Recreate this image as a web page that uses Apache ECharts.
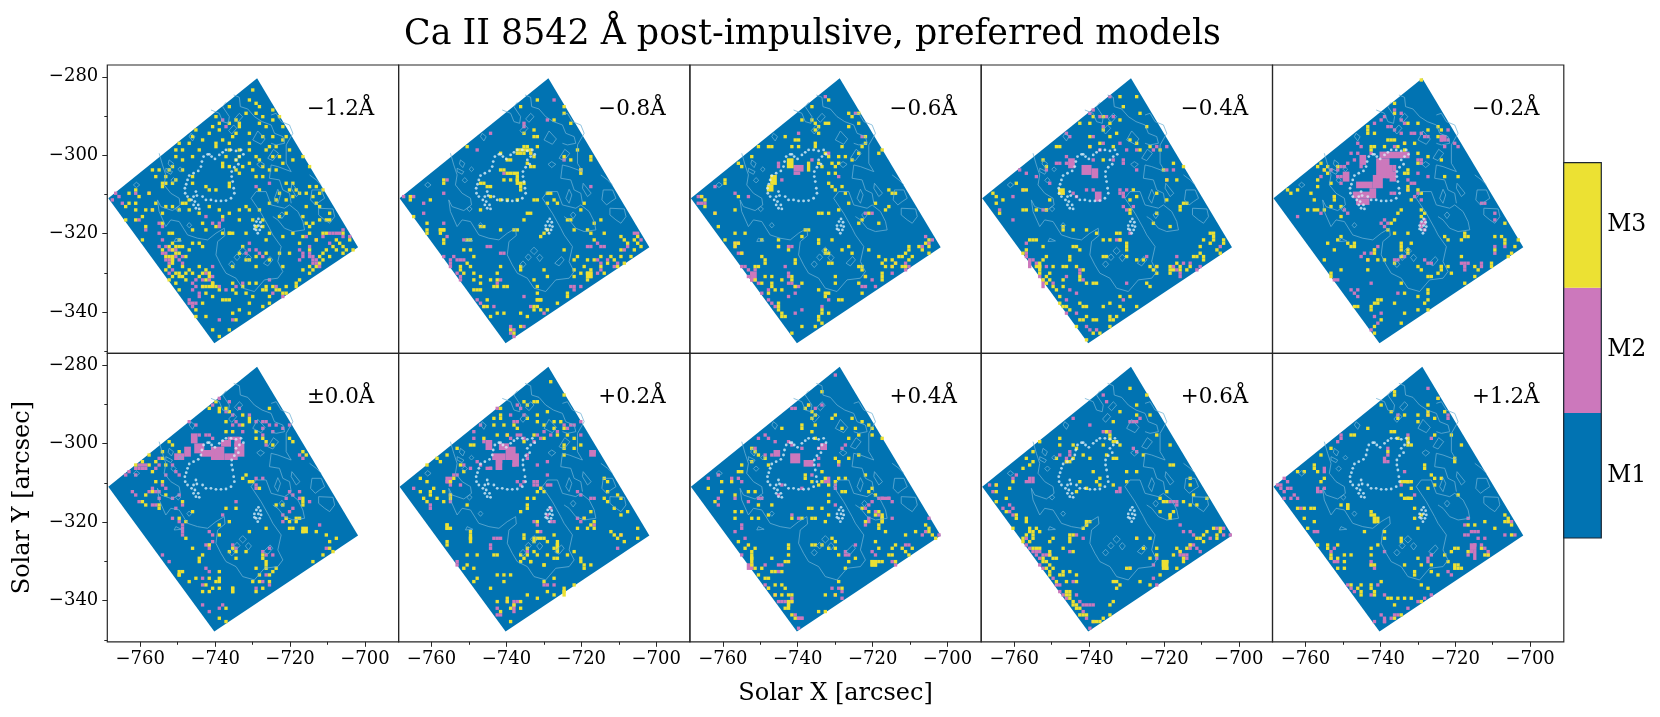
<!DOCTYPE html>
<html>
<head>
<meta charset="utf-8">
<title>Ca II 8542 preferred models</title>
<script src="https://cdn.jsdelivr.net/npm/echarts@6/dist/echarts.min.js"></script>
<style>
  html, body { margin: 0; padding: 0; background: #fff; }
  #main { width: 1660px; height: 717px; }
</style>
</head>
<body>
<div id="main"></div>
<script>
const panelLabels = ['\u22121.2\u00c5', '\u22120.8\u00c5', '\u22120.6\u00c5', '\u22120.4\u00c5', '\u22120.2\u00c5',
  '\u00b10.0\u00c5', '+0.2\u00c5', '+0.4\u00c5', '+0.6\u00c5', '+1.2\u00c5']
const modelNames = ['M1', 'M2', 'M3']
const xMajorTicks = [-760, -740, -720, -700]
const xMinorTicks = [-750, -730, -710]
const yMajorTicks = [-280, -300, -320, -340]
const yMinorTicks = [-290, -310, -330, -350]

// field of view corners, col,row
const footprintCorners = [[44.8, 4], [75, 54.7], [32, 83.5], [0.3, 40]]

const m3Minus12 = [43,7,42,10,47,5,47,8,44,14,36,12,33,12,32,15,30,15,38,16,39,17,36,17,33,17,41,14,45,17,49,16,51,15,52,18,47,18,42,20,39,18,38,20,46,21,49,21,53,21,55,18,57,22,52,22,48,24,49,27,51,27,54,25,58,27,60,30,25,21,23,20,24,23,21,23,22,25,28,22,32,23,32,24,34,22,36,23,42,23,42,25,39,25,39,27,47,25,45,28,46,30,42,29,40,30,36,30,34,30,34,29,25,27,22,28,19,30,18,31,15,31,14,33,17,33,17,35,19,35,20,34,22,31,25,33,25,35,29,36,30,37,32,37,36,35,36,36,45,37,46,33,44,33,48,31,50,31,53,35,55,35,56,37,54,37,60,36,62,36,63,38,64,37,63,42,59,42,67,41,58,45,53,44,51,45,6,38,8,37,12,38,14,41,8,41,6,41,11,43,10,45,8,46,5,46,4,48,10,52,16,47,17,42,19,42,21,43,18,50,19,50,25,49,28,47,29,49,32,48,34,50,36,50,41,50,39,43,42,43,41,42,44,48,47,52,48,50,52,51,55,50,58,51,62,52,60,50,65,50,68,52,70,50,72,52,73,55,70,56,69,59,65,55,63,57,60,55,57,53,54,56,51,56,52,60,48,58,47,56,44,57,41,58,40,54,44,60,42,58,39,56,37,60,27,53,28,54,21,54,20,56,19,58,18,60,17,61,21,62,22,63,20,65,21,67,23,64,27,60,29,61,30,63,31,65,32,66,29,68,31,69,28,71,25,62,37,65,38,68,41,68,43,69,47,66,49,66,51,67,53,66,56,65,60,62,62,60,64,56,44,65,48,71,46,72,42,71,39,73,36,70,34,70,37,74,42,74,45,75,41,77,38,76,36,79,26,73,26,75,27,77,29,75,31,79,33,81,44,78,38,80,
  16,55,17,57,18,54,19,55,20,54,21,56,19,53,18,57,22,54,23,57,21,52,24,55,25,53,19,63,20,62,21,63,22,60,23,62,24,61,18,64,27,63,28,62,29,64,30,62,28,66,29,66,30,66,33,67,35,70,37,67,40,66,42,65,46,67,47,67,48,69,50,67,52,68,53,68,54,69,55,69,56,66,57,64,58,61,60,60,61,61,63,59,64,58,66,57,67,54,68,55,69,53,70,54,71,55,64,50,60,48,61,47,59,47,63,46,65,46,66,44,66,46,62,41,61,39,59,38,57,38,55,39,53,40,51,38,50,40,48,41,45,43,46,46,46,48,43,46,39,46,36,44,34,45,33,43,30,42,27,44,24,43,22,41,23,41,24,40,16,44,13,43,11,48,8,43,5,42,9,39,16,36,16,35,13,31,20,27,20,25,27,25,30,20,33,19,26,19,28,15,31,18,37,21,36,25,35,27,38,28,38,31,39,32,43,31,44,27,50,24,52,29,55,28,46,15,49,13,45,12,44,11]
const m2Minus12 = [2,38,3,39,4,41,1,40,8,38,12,38,34,16,35,18,27,17,16,52,15,54,16,56,17,56,18,58,19,57,20,57,19,61,18,62,22,57,15,50,11,49,31,60,30,62,26,64,27,68,25,67,24,70,25,71,27,69,28,66,31,63,33,66,35,67,38,66,40,65,33,47,34,46,15,47,16,48,29,45,42,53,44,55,45,56,46,57,57,55,58,56,60,54,60,56,61,58,62,59,59,51,66,50,68,50,70,49,72,51,69,58,66,53,48,64,50,66,52,69,49,68,55,68,33,76,37,76,50,72,31,65,48,35,44,36,13,43,9,46,
  17,54,18,55,19,55,20,55,17,58,18,59,21,58,22,59,25,65,26,66,28,64,29,62,30,64,24,71,25,72,26,71,60,57,61,57,62,58,61,59,63,60,58,57,57,58,62,52,64,51,67,50,69,50,70,51,42,55,41,56,31,47,33,48]
const m3Minus08 = [36,12,41,10,49,12,49,14,46,16,51,17,37,20,40,19,41,21,40,21,38,24,37,24,41,24,39,26,36,26,35,26,37,26,40,27,32,28,30,26,33,28,38,29,40,30,39,30,30,31,32,32,33,32,31,31,35,33,35,34,36,35,37,35,25,35,26,36,27,36,24,35,31,34,33,34,36,37,36,36,32,40,30,40,35,40,27,39,24,43,40,40,41,40,38,44,39,44,44,38,45,38,44,41,46,40,47,41,54,32,54,31,57,27,57,28,50,46,51,46,51,28,49,27,53,25,18,24,20,24,13,35,13,34,9,40,16,24,3,39,3,40,4,45,8,47,8,49,8,50,12,49,13,49,13,53,12,50,13,52,20,52,21,52,21,55,19,55,22,57,20,59,18,60,18,61,19,62,21,60,22,62,17,64,22,64,24,63,24,65,22,67,23,67,24,67,27,64,28,66,29,66,30,60,29,62,29,64,31,66,32,66,36,60,36,61,41,66,43,61,44,63,40,64,41,68,41,70,42,70,50,68,50,69,47,71,40,72,41,72,26,70,25,72,26,72,24,73,29,74,27,75,31,74,36,74,38,75,40,73,42,73,44,73,47,74,33,79,36,78,34,80,40,79,52,63,52,61,54,62,55,60,56,62,57,62,57,63,56,64,57,61,56,58,60,57,58,58,60,60,61,62,63,57,62,59,64,58,65,60,66,51,67,52,68,53,70,52,71,51,71,53,72,54,72,56,66,55,66,57,70,55,69,57,67,59,49,55,52,58,53,57,57,50,58,52,56,49,58,47,60,46,61,50,55,41,54,43,52,49,43,50,42,51,44,49,35,49,34,49,37,46,25,48,24,48,30,49]
const m2Minus08 = [4,39,0,40,1,39,7,41,7,44,13,47,14,51,11,55,13,57,15,58,15,59,16,57,17,58,18,58,19,58,15,60,17,62,18,63,18,64,17,65,19,52,27,54,26,54,30,56,31,56,30,64,29,65,23,70,24,71,25,72,24,74,28,72,37,69,39,72,43,74,33,78,33,80,34,79,34,81,37,78,56,54,57,54,59,53,60,54,61,54,59,58,60,59,60,61,59,62,62,58,64,60,65,59,51,66,52,66,52,67,54,66,60,65,61,65,63,63,57,67,37,18,37,17,44,16,46,10,27,20,23,25,14,34,13,38,70,50,71,50,72,52,73,51,67,55,68,54,74,55,31,32,39,26,54,31,57,36,49,28]
const m3Minus06 = [47,6,49,9,41,10,36,12,47,14,50,14,48,15,50,17,47,18,36,16,37,17,38,18,38,20,37,19,33,16,40,17,41,17,52,21,52,23,51,24,57,25,56,26,31,22,32,22,32,24,28,21,24,24,23,24,30,24,37,23,37,24,40,26,41,27,45,24,44,27,46,27,48,28,50,26,42,29,43,30,44,29,43,32,41,32,41,35,42,36,43,37,45,36,46,38,47,41,44,43,38,44,39,44,41,44,38,29,39,30,15,30,18,27,20,24,14,29,10,35,10,34,14,39,13,43,4,40,4,42,3,39,3,44,7,44,8,48,10,52,13,50,13,53,13,54,14,53,16,50,21,52,26,54,26,52,21,57,22,58,15,56,19,60,20,60,22,59,22,63,19,64,19,66,24,63,24,65,24,66,23,68,21,65,27,64,27,67,25,67,30,64,30,63,31,66,33,65,31,58,31,59,29,55,33,51,38,52,38,53,42,52,40,55,40,56,41,56,42,59,47,54,48,56,41,68,40,68,40,69,38,67,39,73,39,74,38,75,38,76,41,74,44,70,45,70,43,65,43,63,41,59,45,55,50,60,51,61,57,62,57,63,57,64,57,59,58,58,56,57,58,60,60,58,60,60,62,57,63,57,61,59,63,60,65,58,64,60,66,57,69,55,68,54,70,53,71,52,71,54,71,56,72,56,65,55,65,54,64,56,53,55,51,60,52,63,50,65,54,68,51,68,56,67,57,67,26,71,26,72,26,73,27,74,27,75,28,75,29,80,30,80,39,77,37,78,40,79,33,78,36,80,50,47,51,46,53,44,55,41,56,47,58,43,59,42,60,38,59,37,61,38]
const m2Minus06 = [2,39,3,39,3,41,4,41,2,41,7,36,13,38,17,39,7,44,13,53,14,53,13,54,14,56,15,56,15,60,14,59,16,60,17,61,18,62,19,61,18,64,17,63,18,65,19,66,20,65,29,62,29,63,29,65,21,68,23,67,31,66,32,66,26,54,29,54,30,54,28,60,30,65,22,70,23,70,24,71,25,72,24,73,29,69,31,68,33,73,31,74,41,70,39,72,52,63,51,66,52,66,54,64,60,62,60,60,61,59,64,59,64,61,65,60,55,66,59,66,70,51,71,53,69,54,72,52,52,44,54,44,44,33,41,26,32,20,26,30,27,34,26,29,36,28,49,14,51,21,40,9]
const m3Blocks06 = [24,33,2,3,23,36,2,2,29,28,2,3,35,29,1,3,34,49,2,1]
const m2Blocks06 = [31,30,3,2,31,32,2,1,18,62,2,3]
const m3Minus04 = [45,4,47,8,41,9,42,12,46,9,33,15,32,17,36,15,38,17,36,19,38,21,40,20,41,16,47,14,49,18,46,23,44,22,47,25,50,24,53,25,57,29,54,31,55,34,58,34,60,30,61,41,59,42,55,40,52,38,46,39,44,40,45,37,44,43,44,44,36,28,35,23,32,24,39,24,29,17,32,21,23,24,22,24,18,28,19,30,12,37,10,35,13,37,3,38,0,39,4,39,4,41,6,40,5,44,12,43,13,43,16,43,19,43,20,40,14,52,15,52,16,52,13,55,12,56,18,54,19,57,24,48,24,49,27,49,31,49,34,50,40,50,41,50,36,52,38,52,41,52,43,53,43,54,27,54,28,54,29,55,26,57,26,58,25,60,24,60,28,60,30,61,29,63,29,64,31,65,33,65,34,65,21,60,20,62,20,64,19,65,21,66,22,67,24,64,24,66,21,69,23,69,25,72,26,73,29,71,30,72,31,72,36,72,38,71,41,69,44,69,46,72,41,72,38,75,39,76,40,75,42,73,42,76,34,76,33,76,31,75,30,76,29,76,28,78,29,80,31,82,31,84,33,80,35,80,38,78,38,76,16,60,17,60,17,62,18,64,19,63,20,68,18,58,23,71,24,72,36,57,37,57,43,55,43,57,46,58,48,58,50,60,51,61,52,60,49,65,50,66,52,62,56,60,56,62,58,59,59,60,59,61,61,61,62,60,63,57,64,57,65,56,66,57,66,58,65,54,68,53,69,50,69,51,69,52,72,52,72,53,71,56,70,55,66,52,68,50,51,47,52,44,56,48,59,43,60,41]
const m2Minus04 = [38,9,32,14,33,13,35,15,36,18,37,15,39,15,26,21,25,20,33,21,32,24,36,23,41,23,43,25,46,25,51,25,52,24,55,24,25,27,25,29,23,29,22,29,19,31,20,35,16,33,12,37,9,39,13,32,11,31,33,28,39,28,35,25,42,28,42,29,46,31,55,31,55,34,57,31,33,37,31,37,27,38,28,39,24,38,43,37,41,37,41,38,42,38,42,39,45,42,43,43,42,42,9,46,5,43,18,43,19,43,13,53,13,56,13,57,15,58,16,59,14,59,17,63,17,65,19,60,21,65,25,63,26,67,22,71,23,72,24,73,25,74,28,68,29,62,30,64,29,61,44,50,41,52,40,52,43,65,49,57,42,70,52,60,57,60,58,61,59,62,59,63,58,57,60,59,62,59,63,62,64,61,65,60,63,64,71,54,73,50,25,70,28,74,31,78,32,79,34,79]
const m2Blocks04 = [30,30,3,3,33,31,2,3,26,28,2,3,34,38,2,3,14,58,1,3,18,64,1,3]
const m3Blocks04 = [23,37,2,2,17,59,1,3,56,61,2,1]
const m3Minus02 = [44,4,47,8,48,9,36,11,33,12,31,14,36,14,43,17,40,17,49,18,50,19,46,19,49,21,55,20,28,18,28,19,28,20,30,20,26,18,25,19,22,21,35,22,36,22,39,23,39,25,43,26,42,23,37,24,33,24,29,24,29,25,43,29,46,27,40,31,39,32,40,32,34,22,30,24,50,28,51,33,55,33,16,30,15,31,16,32,14,29,13,30,19,30,17,35,13,34,13,36,11,38,12,40,7,37,4,37,5,38,10,43,12,43,13,43,18,39,18,40,20,42,20,45,15,43,17,42,35,47,36,46,34,49,36,50,40,50,41,53,44,43,44,45,38,43,37,44,45,44,44,38,41,40,40,37,40,36,43,37,51,51,52,52,57,50,57,51,56,52,58,51,66,51,69,47,68,51,69,52,69,53,71,56,72,54,70,57,73,52,66,55,65,59,60,60,56,57,50,60,49,62,44,61,43,60,38,53,38,54,38,55,40,55,40,56,38,57,36,59,33,58,31,58,28,58,30,56,28,61,30,55,24,53,24,54,22,53,23,54,20,51,19,52,18,55,16,53,15,58,13,59,13,60,17,62,17,63,18,65,20,61,20,68,22,71,24,72,25,72,31,70,32,70,31,71,30,71,39,68,43,69,46,67,46,68,46,70,45,71,50,60,50,61,52,60,53,62,61,61,65,60,60,63,57,65,46,63,29,72,29,73,30,78,30,80,32,76,39,74,36,71,38,77,43,73,46,73,55,72,47,63,38,65]
const m2Minus02 = [50,11,38,14,33,15,36,13,38,16,39,17,30,15,30,17,34,18,35,18,36,19,41,20,42,20,44,20,45,21,46,21,50,22,51,21,52,22,55,24,54,23,51,24,39,23,36,24,25,23,26,24,29,26,25,26,23,26,27,28,24,28,26,30,22,29,21,30,20,30,19,31,20,33,19,33,20,35,17,31,15,31,14,33,43,28,44,29,44,28,43,32,46,33,40,34,42,35,41,35,40,37,35,38,36,38,43,38,42,39,44,40,18,39,21,43,22,44,14,44,7,45,33,46,32,47,33,48,34,47,31,54,30,55,29,56,27,56,26,57,28,58,38,57,39,57,36,58,37,58,45,58,46,59,47,59,56,59,57,59,57,60,58,59,57,61,69,54,66,54,66,56,62,60,62,59,45,49,45,46,44,48,45,47,44,47,14,60,18,64,19,64,23,67,24,68,25,67,25,69,29,65,37,68,30,75,32,74,29,79,31,77,62,41,63,41,66,44,66,46,50,12,52,19,38,20,32,16]
const m2Blocks02 = [32,26,9,2,31,28,4,6,30,33,3,4,34,30,2,4,35,32,2,3,25,35,5,2,24,38,6,2,25,40,4,2,29,37,2,3,21,32,2,3,26,27,2,3,50,21,2,2,36,30,1,2]
const m3Zero = [32,13,32,14,30,16,33,16,33,17,35,16,36,17,35,20,35,23,37,23,40,18,42,20,42,19,40,21,44,23,44,25,46,25,47,26,50,13,48,16,53,17,55,20,54,25,55,26,58,29,59,30,49,27,18,26,19,27,16,29,16,31,17,33,14,32,21,29,12,33,13,35,12,30,10,32,8,33,4,35,14,38,16,38,17,42,13,41,11,42,10,44,11,45,15,45,15,46,22,44,25,47,21,49,23,50,33,51,33,54,36,50,35,46,38,46,40,37,41,36,42,38,43,38,45,40,50,45,52,45,53,49,54,50,54,52,55,52,56,50,57,49,58,43,58,45,58,44,58,53,66,56,66,58,64,60,67,59,72,57,68,55,65,54,56,49,47,52,42,53,37,58,36,59,46,60,46,61,47,64,44,64,45,66,49,65,50,64,48,66,48,68,45,68,43,68,46,70,44,71,37,71,37,70,30,67,29,69,31,70,30,71,26,67,24,68,28,71,22,65,21,66,19,66,25,58,28,60,27,62,27,61,23,55,30,57,33,65,32,68,33,70,35,76,33,79,35,80,38,61,41,59,38,59,61,62,63,63,60,66,57,67,62,53]
const m2Zero = [36,10,33,13,31,15,36,14,35,17,37,18,39,16,38,20,42,18,44,20,46,20,47,20,46,22,48,21,50,21,49,23,46,24,52,22,54,21,55,20,24,20,26,21,27,24,29,24,30,24,31,25,37,21,39,21,40,23,47,27,57,30,58,31,8,34,9,34,10,34,11,34,8,36,6,35,5,36,15,31,15,33,14,34,17,36,19,33,20,35,21,36,7,41,8,42,9,44,12,41,13,40,14,41,15,41,16,39,17,40,15,43,19,43,21,42,22,45,20,46,13,45,14,45,19,49,21,50,22,51,22,52,22,53,22,54,30,53,31,54,31,56,30,57,29,57,34,48,38,44,44,39,44,40,44,37,46,37,53,43,54,41,55,42,57,41,52,48,53,49,52,50,54,47,55,46,57,43,60,44,63,51,65,58,37,57,38,58,46,59,47,60,48,58,49,60,47,66,46,68,44,70,48,69,30,65,28,67,28,69,29,64,30,58,18,70,20,71,28,75,33,76,34,75,30,77,16,60,18,62,14,60]
const m2BlocksZero = [31,28,4,4,26,27,3,3,28,29,4,2,35,30,4,2,38,27,3,4,38,26,2,2,36,25,4,1,20,30,3,2,25,24,2,3,9,33,3,1,23,28,2,3,34,26,3,2]
const m3Blocks00 = [58,52,2,2,21,65,1,2,33,67,1,2,37,70,1,2,47,62,1,2]
const m3Plus02 = [45,8,49,12,37,14,40,14,41,14,38,15,30,16,30,18,27,16,28,19,30,19,28,21,31,21,34,21,35,22,38,19,41,18,44,17,41,20,43,21,46,22,46,20,48,20,49,22,47,24,50,24,52,25,49,27,49,28,49,30,54,27,52,28,43,25,40,24,37,26,29,24,32,24,25,25,22,27,21,27,17,28,14,30,11,31,12,32,8,33,18,33,19,35,16,37,15,38,6,37,8,38,6,41,9,41,10,40,9,42,8,44,7,43,11,43,13,44,13,41,15,42,15,43,20,45,38,45,38,43,40,43,41,41,42,40,43,41,36,47,38,46,41,50,41,53,37,54,37,55,40,55,41,55,42,55,43,55,40,56,44,56,46,54,38,58,38,60,41,60,44,60,46,61,47,61,46,58,47,57,47,59,50,60,52,59,54,61,54,62,55,63,57,63,55,64,43,63,36,60,37,61,36,62,40,59,39,62,43,68,44,71,46,67,46,72,49,71,49,72,49,73,52,69,41,73,38,72,43,63,39,62,29,60,28,60,23,60,20,60,20,63,19,64,22,64,23,67,22,68,19,66,14,56,14,52,14,51,15,52,21,53,21,55,21,56,14,57,29,66,31,66,31,68,33,66,27,70,24,73,33,76,33,80,30,77,29,74,32,73,32,74,34,75,36,76,36,74,57,51,58,52,56,52,53,52,58,50,55,49,57,47,61,43,62,44,65,42,66,43,64,46,66,48,68,47,71,52,71,55,66,54,65,55,67,56,63,53,64,54,62,38,61,37,62,41]
const m2Plus02 = [29,16,32,13,35,15,36,16,37,18,33,18,34,20,35,20,25,18,24,21,22,23,22,25,25,26,32,24,33,25,35,24,36,24,37,25,40,26,41,24,42,25,43,23,45,24,47,23,49,21,50,22,51,21,52,21,54,20,54,24,58,29,44,32,41,33,38,31,38,30,34,33,30,32,27,34,24,33,23,32,21,34,19,33,17,36,16,36,15,38,15,39,14,38,18,39,35,38,37,38,36,39,40,38,41,38,40,39,41,39,44,36,45,39,44,39,42,40,15,42,15,44,9,46,9,45,4,40,53,41,54,42,57,43,45,50,46,50,44,48,45,46,40,50,41,51,28,55,29,55,30,55,27,57,27,58,14,60,17,62,17,63,18,65,15,63,20,70,29,76,29,78,32,74,30,78,34,74,35,74,43,76,44,76,43,69,44,69,46,69,66,54,65,58,58,43,53,49,54,50,55,49,58,51,38,59,42,53]
const m2BlocksPlus02 = [26,26,2,3,28,30,4,2,32,28,3,4,34,30,2,4,29,32,2,3,26,34,2,1,30,27,3,2,57,29,2,2,14,37,2,2,34,75,1,3]
const m3Blocks02 = [47,56,1,3,49,70,1,3,14,51,1,2,21,54,1,2]
const m3Plus04 = [47,8,39,11,49,9,35,15,36,17,37,18,34,16,36,19,43,18,48,19,49,22,51,20,53,21,54,22,54,24,57,25,58,25,50,24,47,25,45,22,42,19,37,21,37,25,36,23,33,21,33,22,25,19,27,22,18,28,19,29,20,30,22,31,23,33,18,32,15,33,14,35,12,38,15,35,9,38,5,40,7,44,9,41,13,42,17,41,19,41,20,45,13,47,15,47,13,49,18,49,20,49,23,48,24,45,30,49,33,49,36,49,37,49,39,46,40,50,41,48,35,46,36,46,45,41,46,41,41,44,41,42,44,37,46,37,43,38,41,39,40,37,39,38,34,36,34,37,36,38,38,39,39,35,43,31,44,32,47,31,50,30,52,36,53,41,54,40,55,42,51,46,53,47,52,50,56,47,57,49,57,50,56,51,55,48,56,52,58,53,60,58,55,56,56,58,59,60,60,60,63,58,61,57,64,59,65,60,65,61,64,62,67,53,70,51,71,52,71,53,72,54,73,55,74,55,64,54,56,62,57,62,54,62,54,63,55,63,61,62,66,58,49,61,46,64,47,62,43,58,44,60,41,58,39,57,42,55,43,56,37,57,36,57,29,57,29,58,29,60,29,62,28,62,24,61,27,65,25,65,22,67,23,67,25,69,27,69,28,70,23,70,22,71,25,72,27,72,29,72,30,72,30,74,29,75,28,76,30,78,31,79,40,72,38,77,40,77,44,68,45,70,43,72,14,56,16,58,17,57,18,59,18,61,19,58,21,64,18,63,19,64,20,66,24,65]
const m2Plus04 = [43,6,32,13,31,14,35,15,37,16,39,15,30,16,31,16,22,24,23,25,25,26,20,25,19,28,22,30,24,30,29,26,30,27,33,28,38,28,39,27,40,28,46,27,45,28,44,33,38,33,38,31,40,38,41,38,41,37,33,40,36,36,27,39,26,42,14,37,12,37,15,38,8,36,8,43,8,45,5,37,13,43,17,44,20,43,21,43,13,53,15,51,15,52,16,55,12,57,11,58,14,59,15,60,15,62,16,63,17,65,22,69,23,70,26,63,27,63,26,65,22,63,25,72,26,74,27,74,28,74,30,73,30,74,31,78,32,79,33,79,32,82,32,83,44,70,45,71,43,72,45,73,46,59,46,60,47,60,49,57,52,46,53,45,54,44,56,43,57,43,59,43,60,44,55,47,53,49,53,50,60,49,56,48,52,51,64,57,65,57,69,54,70,53,71,49,72,50,74,54,54,59,55,60,60,62,61,63,30,48,32,49,43,39,43,40,43,45,42,70]
const m2BlocksPlus04 = [30,30,3,3,25,29,2,2,34,32,3,2,39,27,2,2,57,43,3,1,17,63,2,2,32,79,2,1]
const m3Blocks_p04 = [54,62,2,2,57,48,1,3,18,60,1,3,44,32,1,1,29,74,1,3]
const m3Plus06 = [47,7,44,10,49,12,46,15,46,18,41,17,39,20,52,24,56,27,54,18,50,18,37,23,38,24,38,25,39,26,40,26,41,27,36,27,37,30,39,31,40,31,32,31,30,30,28,28,27,27,23,25,23,27,17,26,15,29,13,31,14,33,12,34,15,32,22,31,25,32,26,32,27,31,33,35,35,37,34,38,29,38,28,41,31,40,35,39,39,39,43,35,46,35,43,38,48,30,56,33,57,33,55,41,53,43,54,44,55,44,53,47,56,48,57,47,60,44,62,45,62,39,62,37,63,42,64,45,67,43,9,38,8,40,4,39,4,41,4,44,3,46,5,48,7,43,7,47,10,48,10,49,9,52,13,49,13,50,13,54,14,53,15,53,15,54,15,55,14,56,14,52,6,50,6,51,7,51,12,55,12,56,16,52,17,53,15,58,16,58,17,58,20,59,20,60,21,61,22,61,18,61,18,62,19,62,20,63,19,64,20,65,21,64,18,65,20,66,19,67,22,68,23,66,24,65,24,66,26,65,28,66,28,68,25,68,26,71,25,71,25,72,26,72,26,73,27,74,27,75,28,75,28,76,29,76,29,78,31,78,30,78,33,80,34,80,35,80,36,79,38,78,38,75,39,74,40,70,41,69,43,64,44,64,47,68,50,69,53,66,54,62,55,62,54,63,55,64,57,60,58,58,59,59,60,61,60,62,61,58,62,57,64,55,65,55,66,54,67,53,69,52,71,52,71,53,70,54,70,55,66,56,62,66,60,65,61,65,58,64,52,60,50,61,50,55,52,58,46,55,48,58,31,50,32,50,31,51,30,52,26,54,27,54,26,55,26,56,24,58,27,59,21,55,20,56]
const m2Plus06 = [36,12,37,14,27,19,32,21,37,23,36,23,38,23,26,29,26,30,25,31,25,32,23,30,15,38,14,38,13,38,9,37,10,36,4,39,2,39,3,41,3,44,6,46,8,45,9,46,8,47,9,48,13,55,12,57,13,57,14,58,15,59,16,59,16,60,17,59,18,60,19,60,20,60,17,61,17,63,18,64,19,66,21,67,22,69,23,69,23,71,24,72,25,73,28,72,27,68,29,74,30,75,31,75,32,75,33,75,30,77,31,79,33,80,32,82,33,83,34,84,38,80,44,64,46,55,45,20,44,20,46,20,47,19,45,28,46,29,40,41,41,40,41,41,37,23,52,61,51,63,51,67,55,71,52,69,59,51,60,53,62,53,63,54,62,57,63,57,59,59,59,60,60,60,61,60,61,61,62,58,64,58,65,59,66,60,63,62,68,55,70,52,72,50,72,52,72,54,74,54,56,44,57,44,58,44,58,45,30,55,26,59,28,54,14,37,15,37]
const m3Blocks_p06 = [54,62,2,3,56,48,1,2,31,50,1,2,39,68,2,1]
const m3Plus12 = [36,11,36,12,32,15,35,17,37,19,39,18,43,18,43,20,46,18,46,17,48,19,49,13,46,15,51,17,48,24,53,24,56,27,54,31,54,32,36,23,35,23,37,25,40,25,40,26,40,27,41,27,34,29,23,24,24,24,28,22,18,24,14,30,17,28,12,33,12,34,13,35,15,37,14,38,7,35,9,35,45,34,45,33,47,36,50,37,48,39,48,37,41,38,40,38,38,38,41,40,46,40,38,42,39,43,40,43,55,42,42,46,42,49,44,48,29,47,30,49,31,49,30,50,31,50,20,45,22,45,22,46,7,46,9,46,11,46,12,46,9,49,12,50,10,52,9,53,7,52,13,57,16,57,16,58,13,59,14,60,17,60,17,61,19,57,19,61,21,60,21,62,23,60,29,58,29,60,29,63,30,63,21,64,17,64,19,64,33,55,27,53,31,57,33,53,38,55,38,56,43,52,43,61,39,63,42,65,42,66,44,63,47,63,47,65,49,66,52,62,51,60,53,59,54,58,55,58,58,59,62,58,63,60,64,60,55,63,55,64,56,64,69,48,70,49,69,50,71,51,70,50,71,54,66,52,63,50,58,51,60,51,57,68,60,65,44,69,46,70,32,68,29,69,26,69,26,71,26,72,29,70,30,71,30,72,25,70,23,69,35,73,36,75,34,73,37,73,39,73,41,73,44,74,47,74,36,79,38,78,40,79]
const m2Plus12 = [1,39,2,39,2,40,3,41,3,43,5,43,6,42,3,37,4,38,5,40,7,43,8,46,4,40,13,41,14,41,15,40,13,40,15,34,15,35,20,24,20,25,19,26,33,31,33,32,34,32,34,30,34,28,39,35,40,25,47,25,40,24,38,39,42,42,46,18,52,18,52,19,37,18,46,10,49,13,58,49,57,51,59,53,60,53,61,53,57,54,58,54,61,55,63,55,62,57,63,58,64,59,64,60,60,57,58,60,59,59,66,60,63,63,63,64,64,62,69,54,71,50,70,50,72,54,8,52,12,53,13,53,17,59,18,58,17,61,18,62,19,62,17,65,18,66,22,69,23,70,24,71,31,69,33,72,29,72,32,78,30,80,30,81,33,80,36,78,37,78,35,79,40,76,43,74,45,73,47,72,33,59,29,62,29,63,30,64,53,66,46,61,46,62,47,60,52,65]
const m2BlocksPlus12 = [60,59,1,3,59,57,2,2,33,79,1,2]
const m3Blocks_p12 = [22,45,1,2,30,49,1,2,29,48,2,1,54,63,1,2,40,43,2,1,39,38,2,1]
const m3Blocks08 = [35,25,5,1,34,32,2,1,35,34,1,2,12,49,2,1,56,62,2,2,41,70,2,1]
const m3Blocks12 = [19,57,1,3,31,65,1,2,36,50,2,1]
const noBlocks = []

// light contours, tenths of a cell
const contourLines = [
  [150,405,155,440,175,485,190,465,215,470,240,510,270,520,300,525,325,505,350,490,352,512,330,530,325,570,340,600,355,625,385,640,405,670,440,680,470,645,510,640,525,620,510,590,520,545,495,510,485,490,460,445,430,400,445,380,475,380,490,420,530,430,545,420,570,440,585,470,590,495,555,500,530,490,510,465,495,455],
  [155,265,165,300,175,330,170,360,190,385,215,400,218,420,195,437,160,425,150,405],
  [378,90,395,97,398,125,420,132,440,155,463,170,490,180,500,205,525,215,530,235,505,240,490,235],
  [490,150,505,145,520,170,545,180,555,205,535,240,535,295,550,320,510,305,490,300,485,340,515,345,525,375,545,385,550,415],
  [310,135,335,145,345,170,362,175,365,155,345,125,355,112],
  [605,330,625,345,640,360],
  [250,205,262,215,255,228,245,215,250,205],
  [185,285,198,295,192,308,182,297,185,285],
  [175,310,195,320,190,328,175,320,175,310],
  [218,306,225,313,218,320,211,313,218,306],
  [198,338,206,346,198,354,190,346,198,338],
  [87,352,97,360,87,368,78,360,87,352],
  [212,425,220,432,212,440,204,432,212,425],
  [245,473,252,481,245,489,238,481,245,473],
  [405,547,416,558,405,569,394,558,405,547],
  [388,567,397,577,388,587,379,577,388,567],
  [422,568,431,578,422,590,413,578,422,568],
  [372,588,381,598,372,608,363,598,372,588],
  [487,575,495,585,480,603,467,595,487,575],
  [458,290,470,298,458,308,447,298,458,290],
  [497,253,512,265,495,287,480,280,497,253],
  [450,198,472,222,460,238,435,225,450,198],
  [395,145,405,155,390,172,380,162,395,145],
  [378,180,387,190,372,207,363,197,378,180],
  [510,373,518,390,510,415,500,400,510,373],
  [552,355,576,385,565,395,550,370,552,355],
  [522,441,530,450,522,461,514,450,522,441],
  [612,375,640,375,650,400,635,410,622,420,608,405,612,375],
  [632,430,675,432,680,455,665,475,650,465,632,450,632,430],
  [205,520,222,528,200,530,205,520]
]
// white dotted contour, tenths of a cell
const dottedContour = [300,268,288,275,283,290,280,305,272,318,258,325,245,332,240,345,236,358,232,370,233,385,240,395,252,405,265,380,268,392,258,395,262,410,272,420,265,430,275,432,258,420,285,395,295,405,310,405,325,408,340,408,355,407,370,400,380,385,378,370,375,350,372,335,372,320,380,307,392,298,385,285,395,275,407,268,400,255,385,258,370,255,355,255,345,262,335,270,322,282,312,275,305,268,
  452,462,446,470,458,472,440,482,452,482,460,485,445,495,456,495,450,505,440,492]

const panelM3 = [m3Minus12, m3Minus08, m3Minus06, m3Minus04, m3Minus02, m3Zero, m3Plus02, m3Plus04, m3Plus06, m3Plus12]
const panelM2 = [m2Minus12, m2Minus08, m2Minus06, m2Minus04, m2Minus02, m2Zero, m2Plus02, m2Plus04, m2Plus06, m2Plus12]
const panelM3Blocks = [m3Blocks12, m3Blocks08, m3Blocks06, m3Blocks04, noBlocks, m3Blocks00, m3Blocks02, m3Blocks_p04, m3Blocks_p06, m3Blocks_p12]
const panelM2Blocks = [noBlocks, noBlocks, m2Blocks06, m2Blocks04, m2Blocks02, m2BlocksZero, m2BlocksPlus02, m2BlocksPlus04, noBlocks, m2BlocksPlus12]

const classColors = ['#0173b2', '#cc78bc', '#ece133']
const FONT = 'DejaVu Serif'
const xMin = -768.8, xMax = -691, yMin = -350.5, yMax = -277
const cellX = 0.893, cellY = 0.849
const panelLeft = 107.3, panelStep = 291.3, panelHeight = 288.4, topRow = 65

const toX = col => xMin + col * cellX
const toY = row => yMax - row * cellY
const minus = v => String(v).replace('-', '\u2212')

function pairs(flat) {
  const out = []
  for (let i = 0; i < flat.length; i += 2) out.push([flat[i], flat[i + 1]])
  return out
}

// my reading of the crops is a bit off near the edge, nothing lies outside the field of view
function insideView(col, row) {
  for (let i = 0; i < footprintCorners.length; i++) {
    const a = footprintCorners[i]
    const b = footprintCorners[(i + 1) % footprintCorners.length]
    if ((b[0] - a[0]) * (row - a[1]) - (b[1] - a[1]) * (col - a[0]) < 0) return false
  }
  return true
}

function cellData(singles, blocks, cls) {
  const data = pairs(singles)
    .filter(p => insideView(p[0] + 0.5, p[1] + 0.5))
    .map(p => [toX(p[0]), toY(p[1]), toX(p[0] + 1), toY(p[1] + 1), cls])
  for (let i = 0; i < blocks.length; i += 4) {
    const b = blocks.slice(i, i + 4)
    data.push([toX(b[0]), toY(b[1]), toX(b[0] + b[2]), toY(b[1] + b[3]), cls])
  }
  return data
}

function renderCell(params, api) {
  const a = api.coord([api.value(0), api.value(1)])
  const b = api.coord([api.value(2), api.value(3)])
  return { type: 'rect', shape: { x: a[0], y: a[1], width: b[0] - a[0], height: b[1] - a[1] }, style: { fill: classColors[api.value(4)] } }
}

function renderFootprint(params, api) {
  if (params.dataIndex !== 0) return null
  const points = footprintCorners.map(c => api.coord([toX(c[0]), toY(c[1])]))
  return { type: 'polygon', shape: { points: points }, style: { fill: classColors[0] } }
}

const contourData = []
contourLines.forEach(line => {
  pairs(line).forEach(p => contourData.push([toX(p[0] / 10), toY(p[1] / 10)]))
  contourData.push(['-', '-'])
})
const dotData = pairs(dottedContour).map(p => [toX(p[0] / 10), toY(p[1] / 10)])

const grids = [], xAxes = [], yAxes = [], series = [], graphics = []

panelLabels.forEach((label, i) => {
  const col = i % 5
  const row = Math.floor(i / 5)
  const left = panelLeft + panelStep * col
  const top = topRow + panelHeight * row
  grids.push({ left: left, top: top, width: panelStep, height: panelHeight, show: true, borderColor: '#262626', borderWidth: 1.2, backgroundColor: 'transparent' })

  const isBottom = row === 1
  const isLeft = col === 0
  const xBase = { type: 'value', gridIndex: i, min: xMin, max: xMax, position: 'bottom', splitLine: { show: false }, axisLine: { show: false } }
  const yBase = { type: 'value', gridIndex: i, min: yMin, max: yMax, position: 'left', splitLine: { show: false }, axisLine: { show: false } }
  const xMajor = Object.assign({}, xBase, {
    axisTick: { show: isBottom, length: 5, lineStyle: { color: '#262626' }, customValues: xMajorTicks },
    axisLabel: { show: isBottom, customValues: xMajorTicks, formatter: minus, fontFamily: FONT, fontSize: 18, color: '#000', margin: 9 }
  })
  if (i === 7) {
    xMajor.name = 'Solar X [arcsec]'
    xMajor.nameLocation = 'middle'
    xMajor.nameGap = 40
    xMajor.nameTextStyle = { fontFamily: FONT, fontSize: 24, color: '#000' }
  }
  const yMajor = Object.assign({}, yBase, {
    axisTick: { show: isLeft, length: 5, lineStyle: { color: '#262626' }, customValues: yMajorTicks },
    axisLabel: { show: isLeft, customValues: yMajorTicks, formatter: minus, fontFamily: FONT, fontSize: 18, color: '#000', margin: 9 }
  })
  if (i === 5) {
    yMajor.name = 'Solar Y [arcsec]'
    yMajor.nameLocation = 'middle'
    yMajor.nameGap = 73
    yMajor.nameTextStyle = { fontFamily: FONT, fontSize: 24, color: '#000' }
  }
  // second pair of axes only carries the short ticks
  const xShort = Object.assign({}, xBase, { axisLabel: { show: false }, axisTick: { show: isBottom, length: 3, lineStyle: { color: '#262626' }, customValues: xMinorTicks } })
  const yShort = Object.assign({}, yBase, { axisLabel: { show: false }, axisTick: { show: isLeft, length: 3, lineStyle: { color: '#262626' }, customValues: yMinorTicks } })
  const xIndex = xAxes.length
  const yIndex = yAxes.length
  xAxes.push(xMajor, xShort)
  yAxes.push(yMajor, yShort)

  const base = { xAxisIndex: xIndex, yAxisIndex: yIndex, silent: true, animation: false }
  series.push(Object.assign({}, base, { type: 'custom', renderItem: renderFootprint, z: 2, data: footprintCorners.map(c => [toX(c[0]), toY(c[1])]) }))
  series.push(Object.assign({}, base, { type: 'custom', renderItem: renderCell, z: 3, data: cellData(panelM2[i], panelM2Blocks[i], 1) }))
  series.push(Object.assign({}, base, { type: 'custom', renderItem: renderCell, z: 4, data: cellData(panelM3[i], panelM3Blocks[i], 2) }))
  series.push(Object.assign({}, base, { type: 'line', z: 5, showSymbol: false, connectNulls: false, lineStyle: { color: '#6fb1d6', width: 1, opacity: 0.75 }, data: contourData }))
  series.push(Object.assign({}, base, { type: 'scatter', z: 6, symbol: 'circle', symbolSize: 2.8, itemStyle: { color: '#d9eef7' }, data: dotData }))

  graphics.push({ type: 'text', x: left + 267, y: top + 44, style: { text: label, font: '21.4px "' + FONT + '"', fill: '#000', textAlign: 'right', textVerticalAlign: 'middle' } })
})

// colour bar
const barGrid = grids.length
grids.push({ left: 1563.7, top: 162.7, width: 37.6, height: 375.3, show: true, borderColor: '#1c2733', borderWidth: 1.2, backgroundColor: 'transparent', z: 5 })
xAxes.push({ type: 'value', gridIndex: barGrid, min: 0, max: 1, show: false })
yAxes.push({ type: 'category', gridIndex: barGrid, position: 'right', data: modelNames, axisLine: { show: false }, axisTick: { show: false }, axisLabel: { fontFamily: FONT, fontSize: 23.5, color: '#000', margin: 6 } })
series.push({
  type: 'bar', xAxisIndex: xAxes.length - 1, yAxisIndex: yAxes.length - 1, barWidth: '100%', silent: true, animation: false,
  data: modelNames.map((m, i) => ({ value: 1, itemStyle: { color: classColors[i] } }))
})

graphics.push({ type: 'text', x: 812.5, y: 35, style: { text: 'Ca II 8542 \u00c5 post-impulsive, preferred models', font: '34.8px "' + FONT + '"', fill: '#000', textAlign: 'center', textVerticalAlign: 'middle' } })

var myChart = echarts.init(document.getElementById('main'), null, { renderer: 'canvas' })
myChart.setOption({
  backgroundColor: '#fff',
  animation: false,
  grid: grids,
  xAxis: xAxes,
  yAxis: yAxes,
  series: series,
  graphic: graphics
})
</script>
</body>
</html>
